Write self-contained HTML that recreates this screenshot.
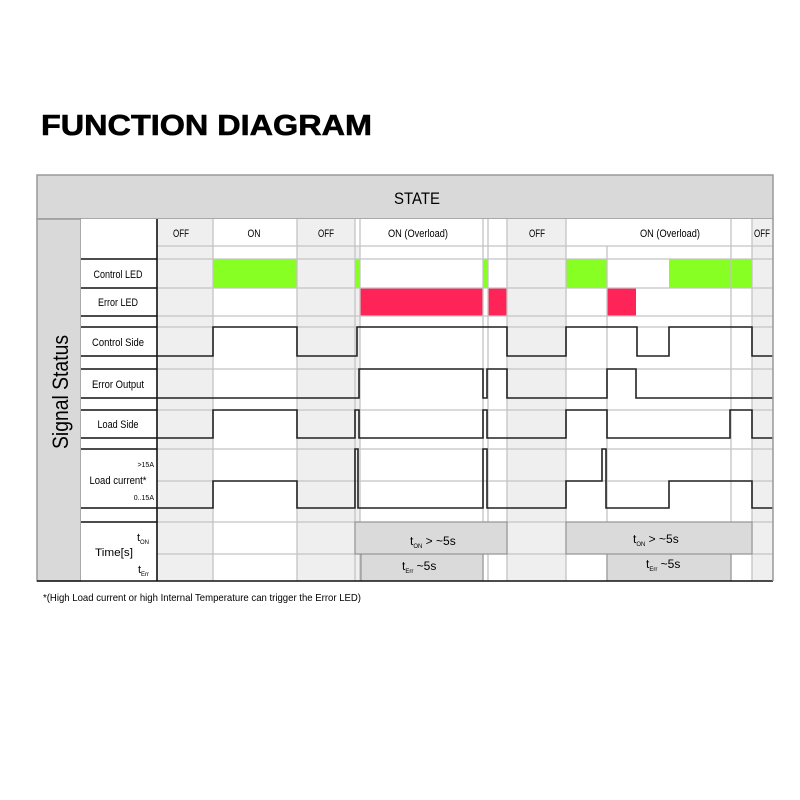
<!DOCTYPE html>
<html><head><meta charset="utf-8"><style>
html,body{margin:0;padding:0;background:#fff;width:800px;height:800px;overflow:hidden}
text{font-family:"Liberation Sans",sans-serif}
</style></head><body>
<svg width="800" height="800" viewBox="0 0 800 800" xmlns="http://www.w3.org/2000/svg">
<text x="41" y="135" font-size="29" font-weight="bold" textLength="331" lengthAdjust="spacingAndGlyphs" stroke="#000" stroke-width="0.6">FUNCTION DIAGRAM</text>

<rect x="37" y="175" width="736" height="44" fill="#d9d9d9" stroke="#999" stroke-width="1.5"/>
<text x="417" y="204" font-size="17" text-anchor="middle" textLength="46" lengthAdjust="spacingAndGlyphs">STATE</text>
<rect x="37" y="219" width="44" height="362" fill="#d9d9d9" stroke="#999" stroke-width="1.5"/>
<text transform="translate(68,392) rotate(-90)" font-size="22" text-anchor="middle" textLength="114" lengthAdjust="spacingAndGlyphs">Signal Status</text>
<rect x="81" y="219" width="76" height="362" fill="#fff"/>
<rect x="157" y="219" width="616" height="362" fill="#fff"/>
<g fill="#efefef">
<rect x="157" y="219" width="56" height="362"/>
<rect x="297" y="219" width="58" height="362"/>
<rect x="355" y="246" width="5" height="335"/>
<rect x="507" y="219" width="59" height="362"/>
<rect x="752" y="219" width="21" height="362"/>
</g>
<g fill="#88ff22">
<rect x="213" y="259" width="84" height="29"/>
<rect x="355" y="259" width="5" height="29"/>
<rect x="483" y="259" width="5" height="29"/>
<rect x="566" y="259" width="41" height="29"/>
<rect x="669" y="259" width="83" height="29"/>
</g>
<g fill="#ff2457">
<rect x="360" y="288" width="123" height="28"/>
<rect x="488" y="288" width="19" height="28"/>
<rect x="607" y="288" width="29" height="28"/>
</g>

<g stroke="#c4c4c4" stroke-width="1.3">
<line x1="157" y1="246" x2="773" y2="246"/>
<line x1="157" y1="259" x2="773" y2="259"/>
<line x1="157" y1="288" x2="773" y2="288"/>
<line x1="157" y1="316" x2="773" y2="316"/>
<line x1="157" y1="327" x2="773" y2="327"/>
<line x1="157" y1="369" x2="773" y2="369"/>
<line x1="157" y1="410" x2="773" y2="410"/>
<line x1="157" y1="449" x2="773" y2="449"/>
<line x1="157" y1="481" x2="773" y2="481"/>
<line x1="157" y1="522" x2="773" y2="522"/>
<line x1="157" y1="554" x2="773" y2="554"/>
<line x1="213" y1="219" x2="213" y2="581"/>
<line x1="297" y1="219" x2="297" y2="581"/>
<line x1="355" y1="219" x2="355" y2="581"/>
<line x1="360" y1="219" x2="360" y2="581"/>
<line x1="483" y1="219" x2="483" y2="581"/>
<line x1="488" y1="219" x2="488" y2="581"/>
<line x1="507" y1="219" x2="507" y2="581"/>
<line x1="566" y1="219" x2="566" y2="581"/>
<line x1="607" y1="246" x2="607" y2="581"/>
<line x1="731" y1="219" x2="731" y2="581"/>
<line x1="752" y1="219" x2="752" y2="581"/>
</g>
<!-- time boxes over grid -->
<rect x="355" y="522" width="152" height="32" fill="#dadada" stroke="#888" stroke-width="1"/>
<rect x="566" y="522" width="186" height="32" fill="#dadada" stroke="#888" stroke-width="1"/>
<rect x="361" y="554" width="122" height="27" fill="#dadada" stroke="#888" stroke-width="1"/>
<rect x="607" y="554" width="124" height="27" fill="#dadada" stroke="#888" stroke-width="1"/>

<g stroke="#111" stroke-width="1.6">
<line x1="157" y1="219" x2="157" y2="581"/>
<line x1="81" y1="259" x2="157" y2="259"/>
<line x1="81" y1="288" x2="157" y2="288"/>
<line x1="81" y1="316" x2="157" y2="316"/>
<line x1="81" y1="327" x2="157" y2="327"/>
<line x1="81" y1="356" x2="157" y2="356"/>
<line x1="81" y1="369" x2="157" y2="369"/>
<line x1="81" y1="398" x2="157" y2="398"/>
<line x1="81" y1="410" x2="157" y2="410"/>
<line x1="81" y1="438" x2="157" y2="438"/>
<line x1="81" y1="449" x2="157" y2="449"/>
<line x1="81" y1="508" x2="157" y2="508"/>
<line x1="81" y1="522" x2="157" y2="522"/>
<line x1="37" y1="581" x2="773" y2="581"/>
</g>
<g fill="none" stroke="#222" stroke-width="1.6">
<polyline points="157,356 213,356 213,327 297,327 297,356 357,356 357,327 507,327 507,356 566,356 566,327 637,327 637,356 669,356 669,327 752,327 752,356 773,356"/>
<polyline points="157,398 359,398 359,369 483,369 483,398 487,398 487,369 507,369 507,398 607,398 607,369 636,369 636,398 773,398"/>
<polyline points="157,438 213,438 213,410 297,410 297,438 355,438 355,410 359,410 359,438 483,438 483,410 487,410 487,438 566,438 566,410 607,410 607,438 730,438 730,410 752,410 752,438 773,438"/>
<polyline points="157,508 213,508 213,481 297,481 297,508 355,508 355,449 358,449 358,508 483,508 483,449 487,449 487,508 566,508 566,481 602,481 602,449 606,449 606,508 669,508 669,481 752,481 752,508 773,508"/>
</g>
<line x1="773" y1="219" x2="773" y2="581" stroke="#999" stroke-width="1.5"/>

<g font-size="11" text-anchor="middle">
<text x="181" y="237" textLength="16" lengthAdjust="spacingAndGlyphs">OFF</text>
<text x="254" y="237" textLength="13" lengthAdjust="spacingAndGlyphs">ON</text>
<text x="326" y="237" textLength="16" lengthAdjust="spacingAndGlyphs">OFF</text>
<text x="418" y="237" textLength="60" lengthAdjust="spacingAndGlyphs">ON (Overload)</text>
<text x="537" y="237" textLength="16" lengthAdjust="spacingAndGlyphs">OFF</text>
<text x="670" y="237" textLength="60" lengthAdjust="spacingAndGlyphs">ON (Overload)</text>
<text x="762" y="237" textLength="16" lengthAdjust="spacingAndGlyphs">OFF</text>
</g>
<g font-size="11" text-anchor="middle">
<text x="118" y="278" textLength="49" lengthAdjust="spacingAndGlyphs">Control LED</text>
<text x="118" y="306" textLength="40" lengthAdjust="spacingAndGlyphs">Error LED</text>
<text x="118" y="346" textLength="52" lengthAdjust="spacingAndGlyphs">Control Side</text>
<text x="118" y="388" textLength="52" lengthAdjust="spacingAndGlyphs">Error Output</text>
<text x="118" y="428" textLength="41" lengthAdjust="spacingAndGlyphs">Load Side</text>
<text x="118" y="484" textLength="57" lengthAdjust="spacingAndGlyphs">Load current*</text>
<text x="114" y="556" textLength="38" lengthAdjust="spacingAndGlyphs">Time[s]</text>
</g>
<g font-size="7" text-anchor="end">
<text x="154" y="467">&gt;15A</text>
<text x="154" y="500">0..15A</text>
</g>
<text x="149" y="541" font-size="11" text-anchor="end">t<tspan font-size="6" dy="3">ON</tspan></text>
<text x="149" y="573" font-size="11" text-anchor="end">t<tspan font-size="6" dy="3">Err</tspan></text>
<text x="410" y="545" font-size="12">t<tspan font-size="6" dy="3">ON</tspan><tspan dy="-3"> &gt; ~5s</tspan></text>
<text x="633" y="543" font-size="12">t<tspan font-size="6" dy="3">ON</tspan><tspan dy="-3"> &gt; ~5s</tspan></text>
<text x="402" y="570" font-size="12">t<tspan font-size="6" dy="3">Err</tspan><tspan dy="-3"> ~5s</tspan></text>
<text x="646" y="568" font-size="12">t<tspan font-size="6" dy="3">Err</tspan><tspan dy="-3"> ~5s</tspan></text>

<text x="43" y="601" font-size="10.5" textLength="318" lengthAdjust="spacingAndGlyphs">*(High Load current or high Internal Temperature can trigger the Error LED)</text>
</svg>
</body></html>
